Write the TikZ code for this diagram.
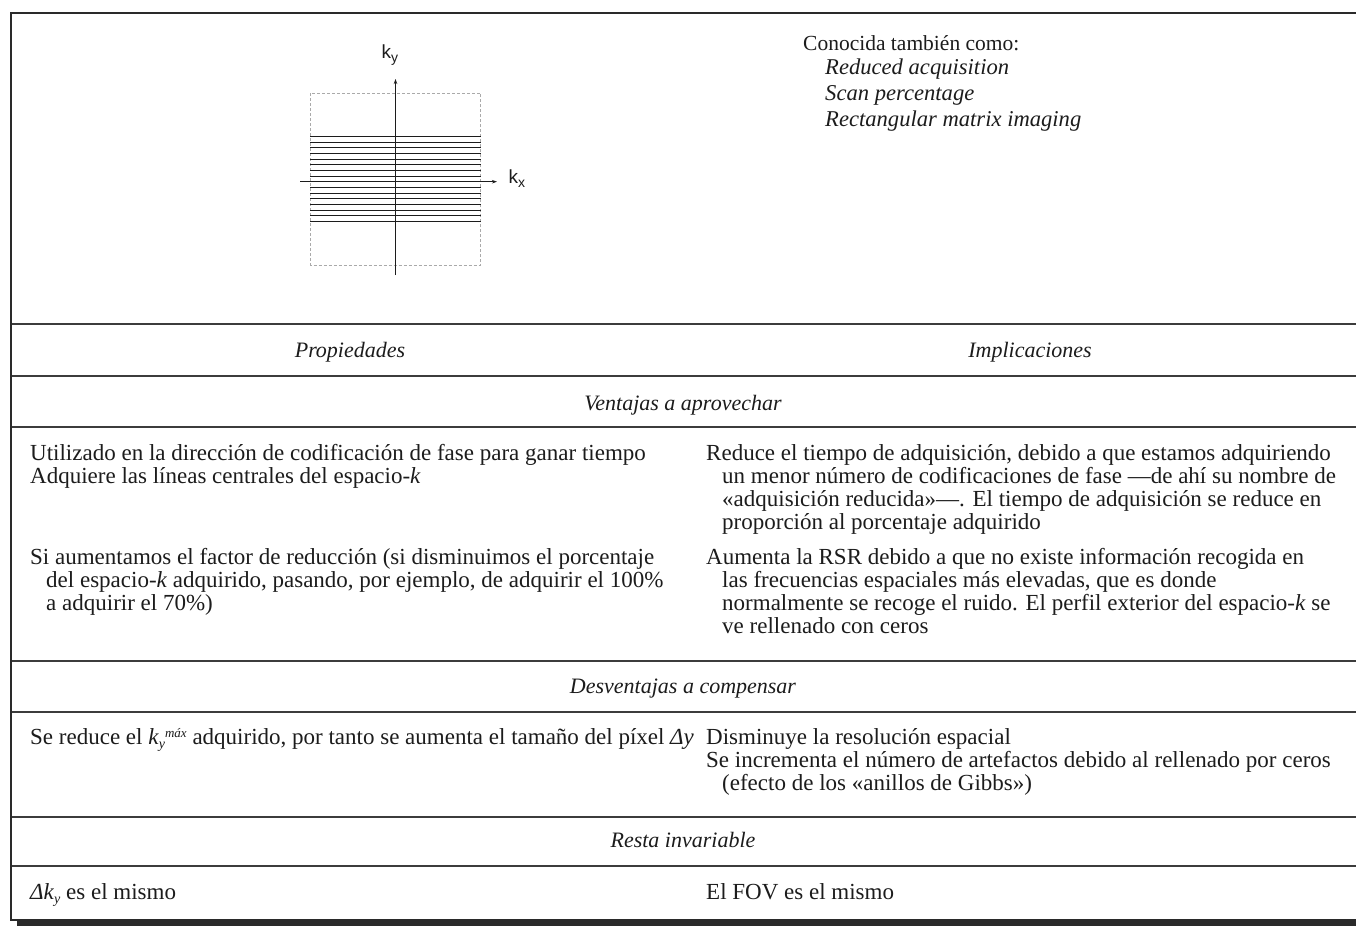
\documentclass[tikz,border=0pt]{standalone}
\usepackage{fontspec}
\setmainfont{Liberation Serif}
\newfontfamily\axisfont{Liberation Sans}
\usetikzlibrary{arrows.meta}
\definecolor{ink}{HTML}{1C1C1C}
\definecolor{framecol}{HTML}{2A2A2A}
\definecolor{rulecol}{HTML}{3C3C3C}
\definecolor{dashcol}{HTML}{AAAAAA}
\begin{document}
\begin{tikzpicture}[x=1pt,y=-1pt,
  txt/.style={anchor=base west, inner sep=0pt, text=ink, font=\fontsize{23}{23.3}\selectfont},
  alias/.style={anchor=base west, inner sep=0pt, text=ink, font=\fontsize{22.6}{24}\selectfont\itshape},
  head/.style={anchor=base, inner sep=0pt, text=ink, font=\fontsize{22}{23.3}\selectfont\itshape},
  rowrule/.style={draw=rulecol, line width=1.1pt},
  kline/.style={draw=ink, line width=0.9pt},
  axis/.style={draw=ink, line width=0.9pt, -{Stealth[length=5pt,width=3.5pt]}},
  axlabel/.style={inner sep=0pt, anchor=base west, text=ink, font=\axisfont\fontsize{19}{22}\selectfont}
]
\useasboundingbox (0,0) rectangle (1356,926);
\fill[white] (0,0) rectangle (1356,926);

% outer frame with a heavier bottom edge
\draw[framecol, line width=2.4pt] (1356,13) -- (11,13) -- (11,920) -- (1356,920);
\fill[framecol] (17,920.5) rectangle (1356,926);

% table rules
\foreach \yy in {324,376,427,661,712,817,866}
  \draw[rowrule] (12,\yy) -- (1356,\yy);

% k-space sketch: sampled region and phase-encoding lines
\draw[dashcol, line width=0.8pt, dash pattern=on 3pt off 2pt] (310.5,93) rectangle (480.5,265);
\foreach \k in {0,...,15}
  \draw[kline] (310,136.3+5.667*\k) -- (480.5,136.3+5.667*\k);
\coordinate (ybot) at (395.5,275);
\coordinate (ytop) at (395.5,79);
\coordinate (xlft) at (300,181.7);
\coordinate (xrgt) at (497,181.7);
\draw[axis] (ybot) -- (ytop);
\draw[axis] (xlft) -- (xrgt);
\node[axlabel] (ky) at (381.5,58.3) {k\raisebox{-4.5pt}{\fontsize{14}{16}\selectfont y}};
\node[axlabel] (kx) at (508.5,183.3) {k\raisebox{-4.5pt}{\fontsize{14}{16}\selectfont x}};

% alternative names
\node[txt, font=\fontsize{21.5}{24}\selectfont] (c0) at (803,50) {Conocida también como:};
\node[alias] (c1) at (825,74.5) {Reduced acquisition};
\node[alias] (c2) at (825,100) {Scan percentage};
\node[alias] (c3) at (825,126) {Rectangular matrix imaging};

% column headers
\node[head] (hp) at (350,357) {Propiedades};
\node[head] (hi) at (1030,357) {Implicaciones};

% advantages
\node[head] (hv) at (683,410) {Ventajas a aprovechar};
\node[txt] (v1) at (30,460) {Utilizado en la dirección de codificación de fase para ganar tiempo};
\node[txt] (v2) at (30,483.3) {Adquiere las líneas centrales del espacio-\textit{k}};
\node[txt] (v3) at (30,564) {Si aumentamos el factor de reducción (si disminuimos el porcentaje};
\node[txt] (v4) at (46,587.3) {del espacio-\textit{k} adquirido, pasando, por ejemplo, de adquirir el 100\%};
\node[txt] (v5) at (46,610.6) {a adquirir el 70\%)};

\node[txt] (w1) at (706,460) {Reduce el tiempo de adquisición, debido a que estamos adquiriendo};
\node[txt] (w2) at (722,483.3) {un menor número de codificaciones de fase ---de ahí su nombre de};
\node[txt] (w3) at (722,506.6) {«adquisición reducida»---. El tiempo de adquisición se reduce en};
\node[txt] (w4) at (722,529.9) {proporción al porcentaje adquirido};
\node[txt] (w5) at (706,564) {Aumenta la RSR debido a que no existe información recogida en};
\node[txt] (w6) at (722,587.3) {las frecuencias espaciales más elevadas, que es donde};
\node[txt] (w7) at (722,610.6) {normalmente se recoge el ruido. El perfil exterior del espacio-\textit{k} se};
\node[txt] (w8) at (722,633.9) {ve rellenado con ceros};

% disadvantages
\node[head] (hd) at (683,693) {Desventajas a compensar};
\node[txt] (d1) at (30,744) {Se reduce el \textit{k}\raisebox{-4.5pt}{\fontsize{14}{15}\selectfont\itshape y}\raisebox{7pt}{\fontsize{13}{15}\selectfont\itshape máx} adquirido, por tanto se aumenta el tamaño del píxel \textit{Δy}};
\node[txt] (e1) at (706,744) {Disminuye la resolución espacial};
\node[txt] (e2) at (706,767.3) {Se incrementa el número de artefactos debido al rellenado por ceros};
\node[txt] (e3) at (722,790.6) {(efecto de los «anillos de Gibbs»)};

% unchanged
\node[head] (hr) at (683,847) {Resta invariable};
\node[txt] (r1) at (30,899) {\textit{Δk}\raisebox{-4.5pt}{\fontsize{14}{15}\selectfont\itshape y} es el mismo};
\node[txt] (s1) at (706,899) {El FOV es el mismo};
\end{tikzpicture}
\end{document}
